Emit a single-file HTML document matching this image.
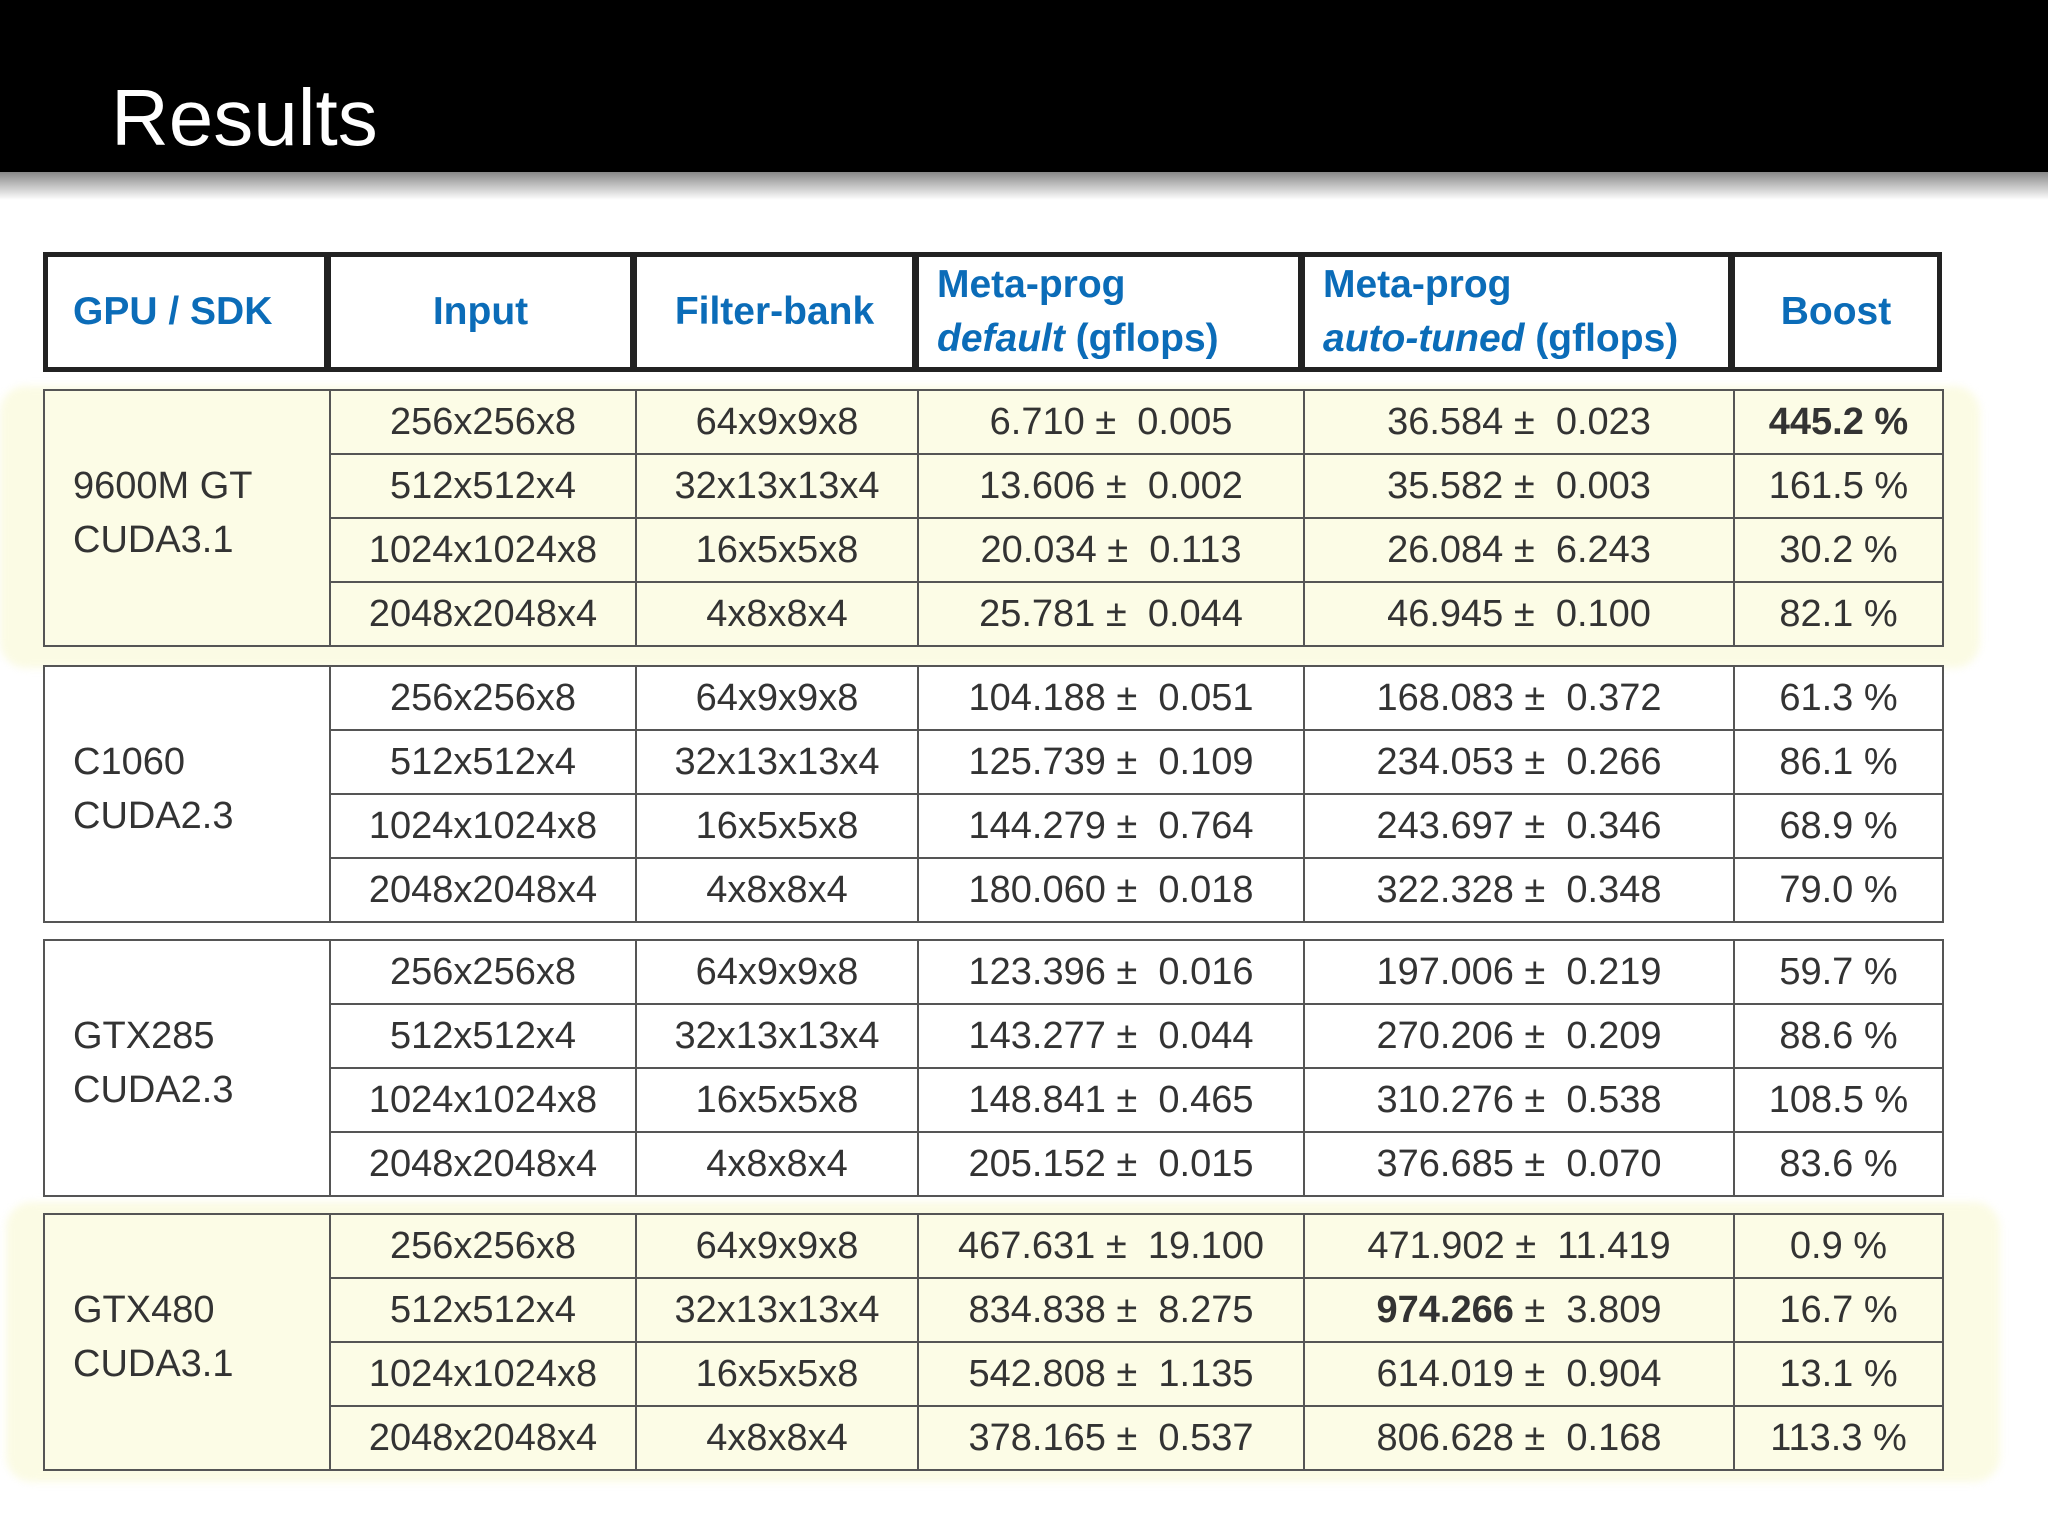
<!DOCTYPE html>
<html><head><meta charset="utf-8">
<style>
body{margin:0;width:2048px;height:1536px;background:#fff;position:relative;overflow:hidden;font-family:"Liberation Sans",sans-serif;}
#hdr{position:absolute;left:0;top:0;width:2048px;height:172px;background:#000;}
#shadow{position:absolute;left:0;top:172px;width:2048px;height:28px;background:linear-gradient(#888,#fff);}
#title{position:absolute;left:111px;top:68px;color:#fff;font-size:80px;line-height:100px;}
.glow{position:absolute;background:#fbfbe4;border-radius:26px;filter:blur(4px);}
.cell{position:absolute;box-sizing:border-box;display:flex;align-items:center;justify-content:center;color:#333;font-size:38px;white-space:pre;}
.hcell{position:absolute;box-sizing:border-box;border:5px solid #222;background:#fff;color:#0b6cb8;font-weight:bold;font-size:39px;display:flex;align-items:center;justify-content:center;line-height:54px;white-space:nowrap;}
</style></head>
<body>
<div id="hdr"></div>
<div id="shadow"></div>
<div id="title">Results</div>
<div class="glow" style="left:0;top:386px;width:1980px;height:282px"></div>
<div class="glow" style="left:6px;top:1202px;width:1994px;height:280px"></div>
<div id="tbl"></div>
<script>
const colX=[43,329,635,917,1303,1733,1942];
const groupTops=[389,665,939,1213];
const rowH=64;
const gpus=[["9600M GT","CUDA3.1"],["C1060","CUDA2.3"],["GTX285","CUDA2.3"],["GTX480","CUDA3.1"]];
const inputs=["256x256x8","512x512x4","1024x1024x8","2048x2048x4"];
const filters=["64x9x9x8","32x13x13x4","16x5x5x8","4x8x8x4"];
const defVals=[["6.710","0.005"],["13.606","0.002"],["20.034","0.113"],["25.781","0.044"],["104.188","0.051"],["125.739","0.109"],["144.279","0.764"],["180.060","0.018"],["123.396","0.016"],["143.277","0.044"],["148.841","0.465"],["205.152","0.015"],["467.631","19.100"],["834.838","8.275"],["542.808","1.135"],["378.165","0.537"]];
const tunVals=[["36.584","0.023"],["35.582","0.003"],["26.084","6.243"],["46.945","0.100"],["168.083","0.372"],["234.053","0.266"],["243.697","0.346"],["322.328","0.348"],["197.006","0.219"],["270.206","0.209"],["310.276","0.538"],["376.685","0.070"],["471.902","11.419"],["974.266","3.809"],["614.019","0.904"],["806.628","0.168"]];
const boosts=["445.2 %","161.5 %","30.2 %","82.1 %","61.3 %","86.1 %","68.9 %","79.0 %","59.7 %","88.6 %","108.5 %","83.6 %","0.9 %","16.7 %","13.1 %","113.3 %"];
const headers=["GPU / SDK","Input","Filter-bank","Meta-prog<br><i>default</i> (gflops)","Meta-prog<br><i>auto-tuned</i> (gflops)","Boost"];
const tbl=document.getElementById('tbl');
for(let c=0;c<6;c++){
  const h=document.createElement('div');
  h.className='hcell';
  
  
  h.style.left=(colX[c]-(c?3:0))+'px';h.style.top='252px';
  h.style.width=(colX[c+1]-colX[c]+(c?3:0))+'px';h.style.height='120px';
  if(c==0||c==3||c==4){h.style.justifyContent='flex-start';h.style.paddingLeft=(c==0?25:18)+'px';}
  h.innerHTML='<span>'+headers[c]+'</span>';
  tbl.appendChild(h);
}
function cell(x,y,w,h,html,name,bg){
  const d=document.createElement('div');
  d.className='cell';
  
  
  d.style.left=x+'px';d.style.top=y+'px';d.style.width=(w+2)+'px';d.style.height=(h+2)+'px';
  d.style.border='2px solid #555';d.style.background=bg;
  d.innerHTML='<span>'+html+'</span>';tbl.appendChild(d);return d;
}
for(let g=0;g<4;g++){
  const top=groupTops[g];const bg=(g==0||g==3)?'#fcfce6':'#fff';
  const gc=cell(colX[0],top,colX[1]-colX[0],rowH*4,gpus[g][0]+'<br>'+gpus[g][1],'gpu-label-'+g,bg);
  gc.style.justifyContent='flex-start';gc.style.paddingLeft='28px';gc.style.lineHeight='54px';gc.style.paddingBottom='10px';
  for(let r=0;r<4;r++){
    const i=g*4+r;const y=top+r*rowH;
    cell(colX[1],y,colX[2]-colX[1],rowH,inputs[r],'input-'+i,bg);
    cell(colX[2],y,colX[3]-colX[2],rowH,filters[r],'filter-'+i,bg);
    cell(colX[3],y,colX[4]-colX[3],rowH,defVals[i][0]+' ±  '+defVals[i][1],'default-'+i,bg);
    const tv=(i==13?'<b>'+tunVals[i][0]+'</b>':tunVals[i][0])+' ±  '+tunVals[i][1];
    cell(colX[4],y,colX[5]-colX[4],rowH,tv,'tuned-'+i,bg);
    cell(colX[5],y,colX[6]-colX[5],rowH,i==0?'<b>'+boosts[i]+'</b>':boosts[i],'boost-'+i,bg);
  }
}
</script>
</body></html>
